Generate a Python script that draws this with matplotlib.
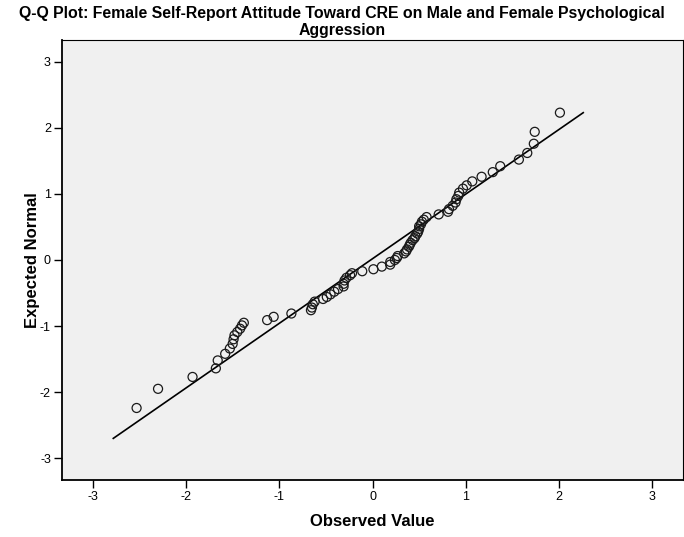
import matplotlib
matplotlib.use("Agg")
import matplotlib.pyplot as plt

# Observed (standardized) values and their expected normal quantiles
observed = [
    -2.53, -2.30, -1.93, -1.68, -1.66, -1.58, -1.53, -1.50, -1.49, -1.48,
    -1.45, -1.42, -1.40, -1.38, -1.13, -1.06, -0.87, -0.66, -0.65, -0.64,
    -0.62, -0.53, -0.49, -0.45, -0.41, -0.37, -0.31, -0.31, -0.30, -0.28,
    -0.24, -0.22, -0.11, 0.01, 0.10, 0.19, 0.19, 0.24, 0.26, 0.27,
    0.34, 0.36, 0.37, 0.39, 0.40, 0.41, 0.43, 0.45, 0.46, 0.48,
    0.49, 0.50, 0.50, 0.52, 0.53, 0.55, 0.58, 0.71, 0.81, 0.82,
    0.86, 0.89, 0.90, 0.92, 0.93, 0.97, 1.01, 1.07, 1.17, 1.29,
    1.37, 1.57, 1.66, 1.73, 1.74, 2.01,
]
expected = [
    -2.24, -1.95, -1.77, -1.64, -1.52, -1.42, -1.34, -1.27, -1.20, -1.14,
    -1.09, -1.04, -0.99, -0.95, -0.91, -0.86, -0.81, -0.76, -0.72, -0.67,
    -0.63, -0.59, -0.56, -0.52, -0.48, -0.44, -0.40, -0.36, -0.31, -0.27,
    -0.23, -0.20, -0.17, -0.14, -0.10, -0.07, -0.03, 0.00, 0.03, 0.06,
    0.10, 0.13, 0.16, 0.20, 0.23, 0.26, 0.30, 0.33, 0.36, 0.40,
    0.43, 0.47, 0.51, 0.54, 0.58, 0.61, 0.65, 0.69, 0.73, 0.77,
    0.82, 0.87, 0.92, 0.97, 1.02, 1.08, 1.13, 1.19, 1.26, 1.33,
    1.42, 1.52, 1.62, 1.76, 1.94, 2.23,
]

# Reference line endpoints
line_x = [-2.78, 2.26]
line_y = [-2.70, 2.23]

ticks = [-3, -2, -1, 0, 1, 2, 3]
tick_labels = ["-3", "-2", "-1", "0", "1", "2", "3"]

title = ("Q-Q Plot: Female Self-Report Attitude Toward CRE on Male and Female Psychological\n"
         "Aggression")

plt.rcParams["font.family"] = ["Liberation Sans", "DejaVu Sans"]

fig = plt.figure(figsize=(6.84, 5.37), dpi=100)
ax = fig.add_axes([62 / 684, 57 / 537, 621 / 684, 440 / 537])
ax.set_facecolor("#f0f0f0")

ax.plot(line_x, line_y, color="black", linewidth=1.2, zorder=2)
ax.scatter(observed, expected, s=42, facecolors="none", edgecolors="#1a1a1a",
           linewidths=0.9, zorder=3)

ax.set_xlim(-3.33, 3.33)
ax.set_ylim(-3.33, 3.33)
ax.set_xticks(ticks)
ax.set_xticklabels(tick_labels)
ax.set_yticks(ticks)
ax.set_yticklabels(tick_labels)
ax.tick_params(direction="out", length=6, width=1.0, labelsize=9, pad=2, color="black")

for side in ["left", "bottom"]:
    ax.spines[side].set_linewidth(1.3)
for side in ["top", "right"]:
    ax.spines[side].set_linewidth(0.8)
for sp in ax.spines.values():
    sp.set_color("black")

ax.set_xlabel("Observed Value", fontsize=12, fontweight="bold", labelpad=8)
ax.set_ylabel("Expected Normal", fontsize=12, fontweight="bold", labelpad=0)

fig.text(0.5, 1 - 22 / 537, title, ha="center", va="center", fontsize=11.4,
         fontweight="bold", linespacing=1.15)

fig.savefig("out.png", dpi=100)
